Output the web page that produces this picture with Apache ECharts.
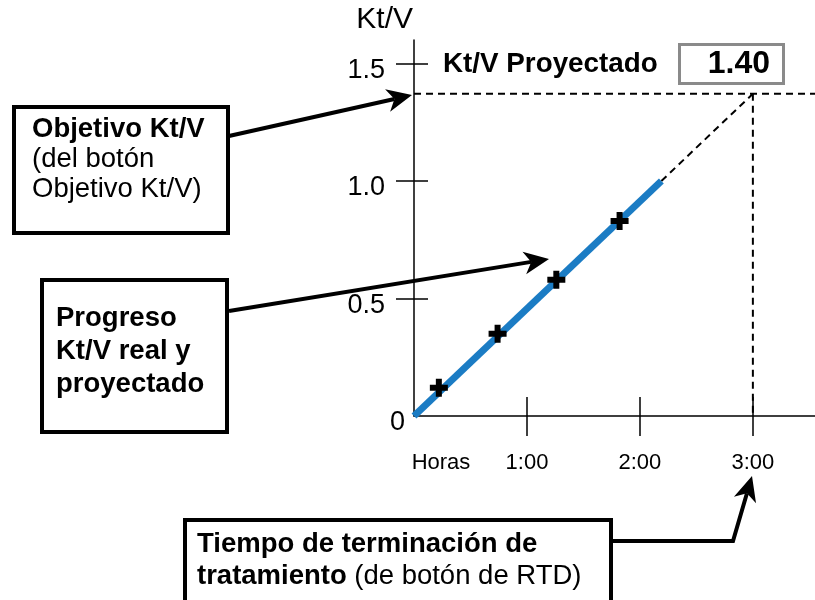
<!DOCTYPE html>
<html><head><meta charset="utf-8">
<script src="https://cdn.jsdelivr.net/npm/echarts@6/dist/echarts.min.js"></script>
<style>html,body{margin:0;padding:0;background:#fff}#c{width:815px;height:600px}</style>
</head><body><div id="c"></div>
<script>
const FONT = '"Liberation Sans", Arial, sans-serif';
// axis ticks / labels
const hourTickValues = [1, 2, 3];
const hourLabelValues = [0, 1, 2, 3];
const hourLabelTexts = ['Horas', '1:00', '2:00', '3:00'];
const ktvTickValues = [0.5, 1.0, 1.5];
const ktvLabelValues = [0, 0.5, 1.0, 1.5];
const ktvLabelTexts = ['0', '0.5', '1.0', '1.5'];
const axisHoursMax = 3.55;
const axisKtvMax = 1.6;
// series values
const progressHours = [0, 2.19];
const progressKtv = [0, 1.0];
const projectionHours = [2.19, 3.0];
const projectionKtv = [1.0, 1.371];
const measuredHours = [0.22, 0.74, 1.26, 1.82];
const measuredKtv = [0.12, 0.35, 0.58, 0.83];
const targetKtv = 1.371;
const completionHours = 3.0;
const projectedKtvText = '1.40';

const zip = (a, b) => a.map((v, i) => [v, b[i]]);
const findIdx = (arr, v) => arr.findIndex(x => Math.abs(x - v) < 1e-6);

function arrowHead(tip, from, len, half, notch) {
  const dx = tip[0] - from[0], dy = tip[1] - from[1];
  const d = Math.hypot(dx, dy), ux = dx / d, uy = dy / d, px = -uy, py = ux;
  const bx = tip[0] - ux * len, by = tip[1] - uy * len;
  return {
    points: [tip, [bx + px * half, by + py * half], [tip[0] - ux * (len - notch), tip[1] - uy * (len - notch)], [bx - px * half, by - py * half]],
    base: [tip[0] - ux * (len - notch), tip[1] - uy * (len - notch)]
  };
}
function arrow(points) {
  const tip = points[points.length - 1], prev = points[points.length - 2];
  const h = arrowHead(tip, prev, 25, 11.5, 7);
  const pts = points.slice(0, -1).concat([h.base]);
  return [
    { type: 'polyline', z: 100, shape: { points: pts }, style: { stroke: '#000', lineWidth: 4, fill: null } },
    { type: 'polygon', z: 100, shape: { points: h.points }, style: { fill: '#000' } }
  ];
}
function box(x, y, w, h, stroke, lw) {
  return { type: 'rect', z: 90, shape: { x, y, width: w, height: h }, style: { fill: '#fff', stroke, lineWidth: lw } };
}
const B = { fontFamily: FONT, fontWeight: 'bold', fontSize: 27.5, fill: '#000', lineHeight: 30 };
const R = { fontFamily: FONT, fontWeight: 'normal', fontSize: 27.5, fill: '#000', lineHeight: 30 };

const chart = echarts.init(document.getElementById('c'), null, { renderer: 'canvas' });
const dashed = { color: '#000', width: 2, type: [7, 5] };

chart.setOption({
  animation: false,
  backgroundColor: '#fff',
  grid: { left: 414, right: 0, top: 40, bottom: 184, containLabel: false },
  xAxis: [{
    type: 'value', min: 0, max: axisHoursMax, position: 'bottom',
    axisLine: { show: true, onZero: false, lineStyle: { color: '#000', width: 1.5 } },
    axisTick: { show: true, customValues: hourTickValues, length: 20, lineStyle: { color: '#000', width: 1.5 } },
    axisLabel: {
      show: true, customValues: hourLabelValues, margin: 36, color: '#000', fontFamily: FONT, fontSize: 22,
      formatter: v => { const i = findIdx(hourLabelValues, v); if (i < 0) return ''; return i === 0 ? '{h|' + hourLabelTexts[i] + '}' : hourLabelTexts[i]; },
      rich: { h: { fontFamily: FONT, fontSize: 22, color: '#000', padding: [0, 0, 0, 54] } }
    },
    splitLine: { show: false }
  }, {
    type: 'value', min: 0, max: axisHoursMax, position: 'bottom',
    axisLine: { show: false },
    axisTick: { show: true, inside: true, customValues: hourTickValues, length: 19, lineStyle: { color: '#000', width: 1.5 } },
    axisLabel: { show: false }, splitLine: { show: false }
  }],
  yAxis: [{
    type: 'value', min: 0, max: axisKtvMax, position: 'left',
    name: 'Kt/V', nameLocation: 'end', nameGap: 5,
    nameTextStyle: { fontFamily: FONT, fontSize: 30, color: '#000', align: 'right', verticalAlign: 'bottom', padding: [0, 1, 0, 0] },
    axisLine: { show: true, onZero: false, lineStyle: { color: '#000', width: 1.5 } },
    axisTick: { show: true, customValues: ktvTickValues, length: 18, lineStyle: { color: '#000', width: 1.5 } },
    axisLabel: {
      show: true, customValues: ktvLabelValues, margin: 9, color: '#000',
      formatter: v => { const i = findIdx(ktvLabelValues, v); if (i < 0) return ''; return i === 0 ? '{z|' + ktvLabelTexts[i] + '}' : '{a|' + ktvLabelTexts[i] + '}'; },
      rich: {
        a: { fontFamily: FONT, fontSize: 27, color: '#000', padding: [14, 20, 0, 0] },
        z: { fontFamily: FONT, fontSize: 27, color: '#000', padding: [14, 0, 0, 0] }
      }
    },
    splitLine: { show: false }
  }, {
    type: 'value', min: 0, max: axisKtvMax, position: 'left',
    axisLine: { show: false },
    axisTick: { show: true, inside: true, customValues: ktvTickValues, length: 14, lineStyle: { color: '#000', width: 1.5 } },
    axisLabel: { show: false }, splitLine: { show: false }
  }],
  series: [
    { type: 'line', name: 'target', data: [[0, targetKtv], [axisHoursMax, targetKtv]], symbol: 'none', lineStyle: dashed, z: 2 },
    { type: 'line', name: 'completion', data: [[completionHours, targetKtv], [completionHours, 0]], symbol: 'none', lineStyle: dashed, z: 2 },
    { type: 'line', name: 'projection', data: zip(projectionHours, projectionKtv), symbol: 'none', lineStyle: dashed, z: 2 },
    { type: 'line', name: 'progress', data: zip(progressHours, progressKtv), symbol: 'none', lineStyle: { color: '#1b7cc4', width: 7, cap: 'butt' }, z: 3 },
    { type: 'scatter', name: 'measured', data: zip(measuredHours, measuredKtv), symbol: 'path://M6,0H12V6H18V12H12V18H6V12H0V6H6Z', symbolSize: 18, itemStyle: { color: '#000', opacity: 1 }, z: 4 }
  ],
  graphic: [
    box(14, 107, 214, 126, '#000', 4),
    { type: 'text', z: 95, x: 32, y: 114, style: { text: '{b|Objetivo Kt/V}\n{r|(del botón}\n{r|Objetivo Kt/V)}', rich: { b: B, r: R }, font: '27px ' + FONT } },
    box(42, 280, 185, 152, '#000', 4),
    { type: 'text', z: 95, x: 56, y: 302, style: { text: '{b|Progreso}\n{b|Kt/V real y}\n{b|proyectado}', rich: { b: Object.assign({}, B, { lineHeight: 33 }) }, font: '27px ' + FONT } },
    box(185, 520, 426, 100, '#000', 4),
    { type: 'text', z: 95, x: 197, y: 528, style: { text: '{b|Tiempo de terminación de}\n{b|tratamiento} {r|(de botón de RTD)}', rich: { b: Object.assign({}, B, { lineHeight: 32 }), r: Object.assign({}, R, { lineHeight: 32 }) }, font: '27px ' + FONT } },
    { type: 'text', z: 95, x: 443, y: 64, style: { text: 'Kt/V Proyectado', fontFamily: FONT, fontWeight: 'bold', fontSize: 27.8, fill: '#000', verticalAlign: 'middle' } },
    box(679.5, 44.5, 104, 39, '#8a8a8a', 3),
    { type: 'text', z: 95, x: 770, y: 64, style: { text: projectedKtvText, fontFamily: FONT, fontWeight: 'bold', fontSize: 32, fill: '#000', align: 'right', verticalAlign: 'middle' } },
    ...arrow([[229, 136], [412, 95]]),
    ...arrow([[229, 311], [549, 259]]),
    ...arrow([[612, 541], [733, 541], [752, 476]])
  ]
});
</script></body></html>
